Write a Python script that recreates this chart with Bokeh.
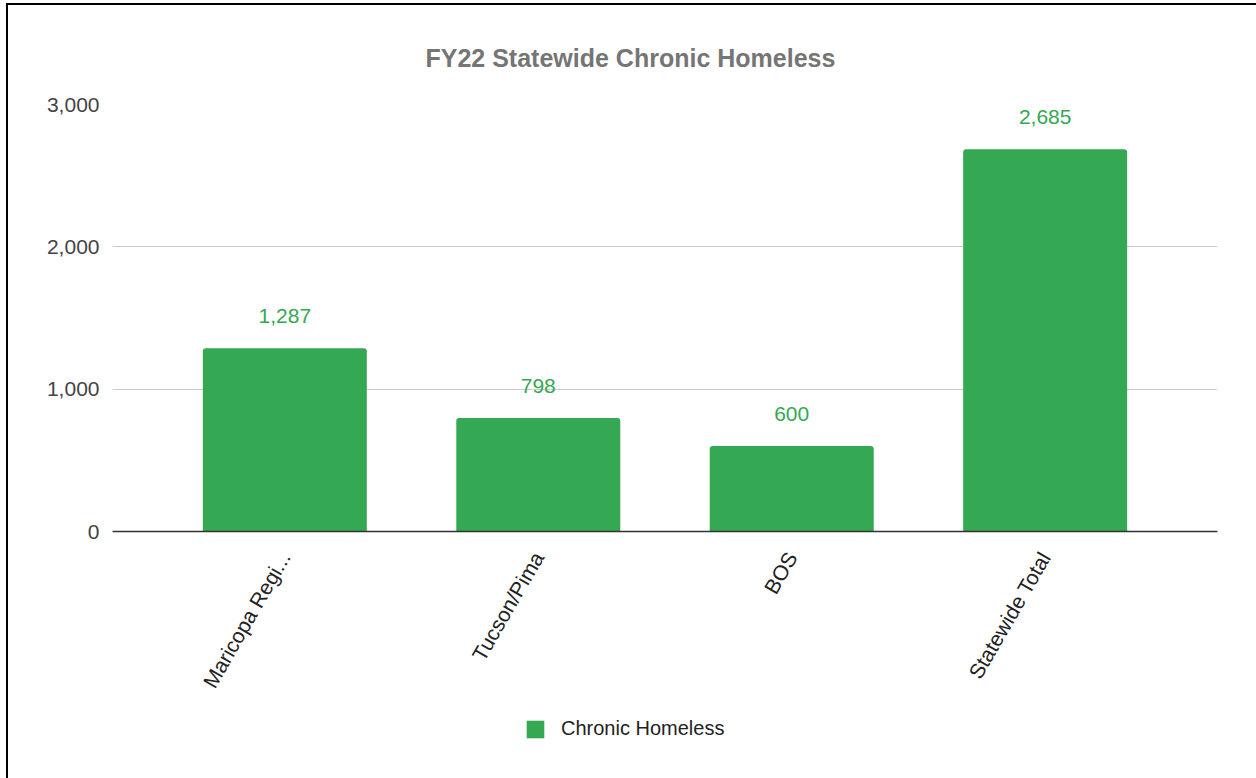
import math
from bokeh.plotting import figure
from bokeh.layouts import column
from bokeh.models import (ColumnDataSource, FixedTicker, NumeralTickFormatter,
                          Legend, LegendItem, LabelSet, FactorRange)
from bokeh.core.properties import value
from bokeh.embed import file_html
from bokeh.resources import INLINE

title_text = "FY22 Statewide Chronic Homeless"
series_name = "Chronic Homeless"
categories = ["Maricopa Regi...", "Tucson/Pima", "BOS", "Statewide Total"]
values = [1287, 798, 600, 2685]
value_labels = ["1,287", "798", "600", "2,685"]
y_ticks = [0, 1000, 2000, 3000]

GREEN = "#34a853"
FONT = "Liberation Sans"

src = ColumnDataSource(dict(cat=categories, val=values, lab=value_labels))

p = figure(x_range=FactorRange(*categories, range_padding=0.18,
                               range_padding_units="absolute"),
           y_range=(0, 3000), width=1248, height=713,
           output_backend="svg", toolbar_location=None,
           min_border_left=104, min_border_right=39,
           min_border_top=99, min_border_bottom=187)
p.outline_line_color = None
p.background_fill_color = "white"
p.border_fill_color = "white"

p.title.text = title_text
p.title.align = "left"
p.title.offset = 313
p.title.standoff = 66
p.title.text_font = FONT
p.title.text_font_size = "25px"
p.title.text_font_style = "bold"
p.title.text_color = "#757575"

r = p.vbar(x="cat", top="val", width=0.647, source=src, fill_color=GREEN,
           line_color=None, border_radius=[3, 3, 0, 0])

labels = LabelSet(x="cat", y="val", text="lab", source=src, y_offset=25,
                  text_align="center", text_baseline="bottom",
                  text_color=GREEN, text_font_size="21px", text_font=value(FONT))
p.add_layout(labels)

# axes
p.yaxis.ticker = FixedTicker(ticks=y_ticks)
p.yaxis.formatter = NumeralTickFormatter(format="0,0")
p.yaxis.axis_line_color = None
p.yaxis.major_tick_line_color = None
p.yaxis.minor_tick_line_color = None
p.yaxis.major_label_standoff = 7
p.yaxis.major_label_text_font = FONT
p.yaxis.major_label_text_font_size = "21px"
p.yaxis.major_label_text_color = "#444444"

p.xaxis.axis_line_color = "#333333"
p.xaxis.axis_line_width = 1.5
p.xaxis.major_tick_line_color = None
p.xaxis.minor_tick_line_color = None
p.xaxis.major_label_orientation = math.pi / 3
p.xaxis.major_label_standoff = 16
p.xaxis.major_label_text_font = FONT
p.xaxis.major_label_text_font_size = "21px"
p.xaxis.major_label_text_color = "#222222"

p.xgrid.grid_line_color = None
p.ygrid.grid_line_color = "#cccccc"
p.ygrid.grid_line_width = 1

# legend strip below the chart (key swatch lies outside the strip's visible range)
lg = figure(width=1248, height=60, x_range=(0, 1), y_range=(0, 1),
            x_axis_type=None, y_axis_type=None, output_backend="svg",
            toolbar_location=None, min_border=0)
lg.outline_line_color = None
lg.grid.grid_line_color = None
lg.background_fill_color = "white"
lg.border_fill_color = "white"
key = lg.vbar(x=[-5], top=[-5], bottom=[-6], width=0.1,
              fill_color=GREEN, line_color=None)
legend = Legend(items=[LegendItem(label=series_name, renderers=[key])],
                location=(412, 38), orientation="horizontal",
                glyph_width=22, glyph_height=22,
                label_standoff=15, padding=0, margin=0, border_line_color=None,
                background_fill_alpha=0, label_text_font=FONT,
                label_text_font_size="20px", label_text_color="#222222")
lg.add_layout(legend, "center")

page = column(p, lg, spacing=0)
page.margin = (3, 0, 0, 6)
page.styles = {"border-left": "2px solid #000", "border-top": "2px solid #000"}

open("out.html", "w").write(file_html(page, INLINE))
